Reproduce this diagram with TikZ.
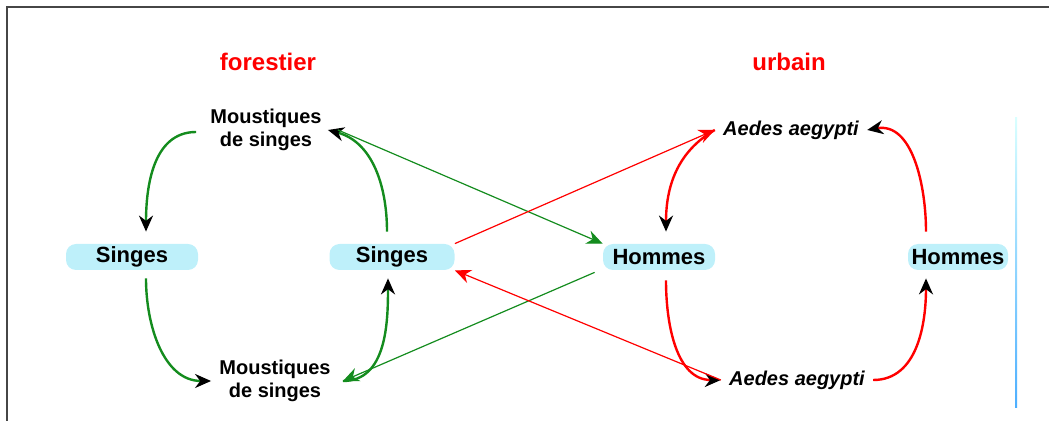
\documentclass[tikz,border=0pt]{standalone}
\usepackage{fontspec}
\setmainfont{Liberation Sans}
\usetikzlibrary{arrows.meta}
\definecolor{hostfill}{RGB}{190,240,250}
\definecolor{vgreen}{RGB}{20,140,30}
\definecolor{framegray}{RGB}{70,70,70}

\begin{document}
\begin{tikzpicture}[
    x=0.5pt, y=-0.5pt,
    host/.style={rectangle, fill=hostfill, rounded corners=5pt, minimum height=13pt, inner sep=0pt, font=\bfseries\fontsize{11}{12}\selectfont},
    vector/.style={font=\bfseries\fontsize{10}{11.5}\selectfont, align=center, inner sep=4pt},
    aedes/.style={vector, font=\bfseries\itshape\fontsize{10}{12}\selectfont},
    title/.style={font=\bfseries\fontsize{12}{14}\selectfont, text=red},
    cycle/.style={-{Stealth[length=8pt, width=7pt, black]}, line width=1.2pt},
    cross/.style={-{Stealth[length=8pt, width=7pt]}, line width=0.6pt}
]
    \useasboundingbox (0,0) rectangle (1049,421);
    \draw[framegray, line width=1pt] (7,421) -- (7,7) -- (1049,7);
    \shade[top color=cyan!15, bottom color=blue!45!cyan!70] (1015,118) rectangle (1017,408);

    \node[title] (forest) at (268,62) {forestier};
    \node[title] (urban) at (789,62) {urbain};

    \node[vector] (mtop) at (266,130) {Moustiques\\de singes};
    \node[vector] (mbot) at (275,381) {Moustiques\\de singes};
    \node[aedes] (atop) at (791,130) {Aedes aegypti};
    \node[aedes] (abot) at (797,380) {Aedes aegypti};

    \node[host, minimum width=66pt] (sl) at (132,257) {Singes};
    \node[host, minimum width=62.5pt] (sm) at (392,257) {Singes};
    \node[host, minimum width=56pt] (hm) at (659,257) {Hommes};
    \node[host, minimum width=50pt] (hr) at (958,257) {Hommes};

    % cycle forestier
    \draw[cycle, vgreen] ([xshift=-3pt, yshift=-1pt]mtop.west) to[out=180, in=90] ([xshift=7pt, yshift=6pt]sl.north);
    \draw[cycle, vgreen] ([xshift=7pt, yshift=-4pt]sl.south) to[out=-90, in=180] (mbot.west);
    \draw[cycle, vgreen] ([xshift=-2.5pt, yshift=6pt]sm.north) to[out=90, in=-15] ([xshift=-1pt]mtop.east);
    \draw[cycle, vgreen] ([xshift=2pt]mbot.east) to[out=0, in=-90] ([xshift=-2pt, yshift=-4pt]sm.south);

    % cycle urbain
    \draw[cycle, red] (atop.west) to[out=-150, in=90] ([xshift=3.5pt, yshift=6pt]hm.north);
    \draw[cycle, red] ([xshift=3.5pt, yshift=-5pt]hm.south) to[out=-90, in=180] (abot.west);
    \draw[cycle, red] (abot.east) to[out=0, in=-90] ([xshift=-16pt, yshift=-4pt]hr.south);
    \draw[cycle, red] ([xshift=-16pt, yshift=6pt]hr.north) to[out=90, in=10] (atop.east);

    % passages
    \draw[cross, vgreen] ([xshift=4pt]mtop.east) -- (hm.north west);
    \draw[cross, vgreen] ([xshift=-4pt, yshift=-1pt]hm.south west) -- ([xshift=2pt]mbot.east);
    \draw[cross, red] (sm.north east) -- (atop.west);
    \draw[cross, red] (abot.west) -- (sm.south east);
\end{tikzpicture}
\end{document}
